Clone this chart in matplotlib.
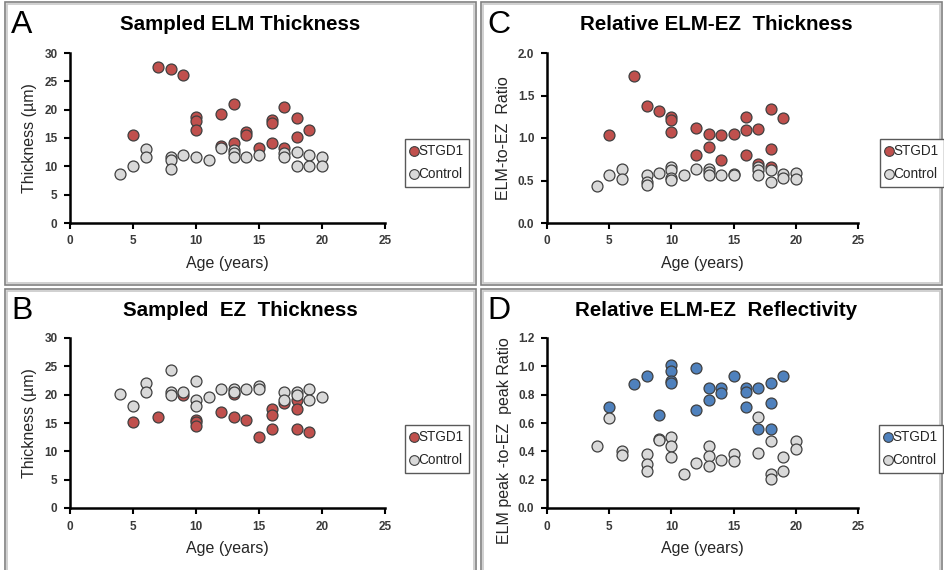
import matplotlib
matplotlib.use('Agg')
import matplotlib.pyplot as plt
from matplotlib.lines import Line2D
from matplotlib.patches import Rectangle

plt.rcParams['font.family'] = ['Liberation Sans', 'DejaVu Sans']

# --- data ---
# A: Sampled ELM thickness (um)
a_stgd_age = [5, 7, 8, 9, 10, 10, 10, 12, 12, 13, 13, 14, 14, 15, 16, 16, 16, 17, 17, 18, 18, 19]
a_stgd_val = [15.6, 27.6, 27.1, 26.1, 18.7, 18.0, 16.5, 19.2, 13.6, 21.0, 14.2, 16.1, 15.6, 13.2,
              18.2, 17.6, 14.2, 20.5, 13.2, 18.6, 15.2, 16.5]
a_ctrl_age = [4, 5, 6, 6, 8, 8, 8, 9, 10, 11, 12, 13, 13, 13, 14, 15, 17, 17, 18, 18, 19, 19, 20, 20]
a_ctrl_val = [8.6, 10.1, 13.05, 11.7, 11.7, 11.1, 9.6, 12.0, 11.7, 11.2, 13.2, 12.9, 12.4, 11.7,
              11.7, 12.0, 12.3, 11.7, 12.6, 10.1, 12.0, 10.1, 11.7, 10.1]

# B: Sampled EZ thickness (um)
b_stgd_age = [5, 7, 9, 10, 10, 10, 12, 13, 13, 14, 15, 16, 16, 16, 17, 18, 18, 18, 19]
b_stgd_val = [15.1, 16.0, 20.0, 15.6, 15.1, 14.5, 17.0, 20.2, 16.0, 15.6, 12.5, 17.5, 16.4, 14.0,
              18.6, 19.1, 17.5, 14.0, 13.5]
b_ctrl_age = [4, 5, 6, 6, 8, 8, 8, 9, 10, 10, 10, 11, 12, 13, 13, 14, 15, 15, 17, 17, 18, 18, 19, 19, 20]
b_ctrl_val = [20.1, 18.0, 22.0, 20.5, 24.4, 20.5, 20.0, 20.5, 22.5, 19.1, 18.0, 19.6, 21.0, 21.0,
              20.4, 21.0, 21.5, 21.0, 20.5, 19.1, 20.5, 20.0, 21.0, 19.1, 19.6]

# C: ELM-to-EZ thickness ratio
c_stgd_age = [5, 7, 8, 9, 10, 10, 10, 12, 12, 13, 13, 14, 14, 15, 16, 16, 16, 17, 17, 18, 18, 18, 19]
c_stgd_val = [1.04, 1.73, 1.38, 1.32, 1.25, 1.21, 1.065, 1.12, 0.80, 1.05, 0.89, 1.04, 0.74, 1.05,
              1.25, 1.10, 0.80, 1.11, 0.69, 1.34, 0.87, 0.66, 1.23]
c_ctrl_age = [4, 5, 6, 6, 8, 8, 8, 9, 10, 10, 10, 10, 11, 12, 13, 13, 13, 14, 15, 15,
              17, 17, 17, 18, 18, 19, 19, 20, 20]
c_ctrl_val = [0.43, 0.56, 0.64, 0.52, 0.57, 0.48, 0.45, 0.59, 0.66, 0.62, 0.53, 0.51, 0.57, 0.63,
              0.64, 0.60, 0.57, 0.56, 0.58, 0.56, 0.66, 0.62, 0.57, 0.62, 0.48, 0.58, 0.53, 0.59, 0.52]

# D: ELM peak-to-EZ peak reflectivity ratio
d_stgd_age = [5, 7, 8, 9, 10, 10, 10, 10, 12, 12, 13, 13, 14, 14, 15, 16, 16, 16, 17, 17, 18, 18, 18, 19]
d_stgd_val = [0.71, 0.875, 0.93, 0.66, 1.006, 0.97, 0.90, 0.88, 0.99, 0.69, 0.85, 0.76, 0.85, 0.81,
              0.93, 0.85, 0.82, 0.71, 0.85, 0.56, 0.88, 0.74, 0.56, 0.93]
d_ctrl_age = [4, 5, 6, 6, 8, 8, 8, 9, 9, 10, 10, 10, 11, 12, 13, 13, 13, 14, 15, 15,
              17, 17, 18, 18, 18, 19, 19, 20, 20]
d_ctrl_val = [0.44, 0.635, 0.40, 0.376, 0.38, 0.31, 0.26, 0.49, 0.48, 0.50, 0.44, 0.36, 0.24, 0.32,
              0.44, 0.37, 0.30, 0.34, 0.38, 0.33, 0.64, 0.39, 0.475, 0.24, 0.205, 0.36, 0.26, 0.475, 0.415]

RED = '#C0504D'
BLUE = '#4F81BD'
GREY = '#D9D9D9'
EDGE = '#3F3F3F'
TXT = '#262626'

W, H = 944, 570
fig = plt.figure(figsize=(W / 100, H / 100), dpi=100)


def px(x0, y_top, w, h):
    # pixel box (left, top, width, height) -> figure fraction rect
    return [x0 / W, 1 - (y_top + h) / H, w / W, h / H]


def panel(rect, s_age, s_val, c_age, c_val, col, ymax, ystep, yfmt):
    ax = fig.add_axes(rect)
    ax.scatter(s_age, s_val, s=62, c=col, edgecolors=EDGE, linewidths=0.9, zorder=3)
    ax.scatter(c_age, c_val, s=62, c=GREY, edgecolors=EDGE, linewidths=0.9, zorder=4)
    ax.set_xlim(0, 25)
    ax.set_ylim(0, ymax)
    ax.set_xticks(range(0, 26, 5))
    n = int(round(ymax / ystep))
    ax.set_yticks([i * ystep for i in range(n + 1)])
    ax.set_yticklabels([yfmt.format(i * ystep) for i in range(n + 1)])
    for sp in ['top', 'right']:
        ax.spines[sp].set_visible(False)
    for sp in ['left', 'bottom']:
        ax.spines[sp].set_linewidth(1.8)
        ax.spines[sp].set_color('black')
    ax.tick_params(direction='out', length=4, width=1.5, labelsize=8.5,
                   labelcolor='#3a3a3a', pad=5)
    for lab in ax.get_xticklabels() + ax.get_yticklabels():
        lab.set_fontweight('bold')
    ax.set_xlabel('Age (years)', fontsize=11.5, color=TXT, labelpad=6)
    ax.patch.set_alpha(0)
    return ax


def legend(col, x0, y_top):
    handles = [Line2D([], [], ls='', marker='o', ms=7, mfc=col, mec=EDGE, mew=0.8),
               Line2D([], [], ls='', marker='o', ms=7, mfc=GREY, mec=EDGE, mew=0.8)]
    leg = fig.legend(handles, ['STGD1', 'Control'], loc='upper left',
                     bbox_to_anchor=(x0 / W, 1 - y_top / H), fontsize=9.8,
                     handlelength=0.5, handletextpad=0.1, borderpad=0.4,
                     labelspacing=0.65, fancybox=False, framealpha=1,
                     borderaxespad=0)
    leg.get_frame().set_edgecolor('#595959')
    leg.get_frame().set_linewidth(1.0)
    for t in leg.get_texts():
        t.set_color(TXT)


# panel frames (double grey lines)
for (x0, y0, x1, y1) in [(5, 2, 476, 285), (481, 2, 942, 285),
                         (5, 289, 476, 575), (481, 289, 942, 575)]:
    for off, c in [(0, '#808080'), (2, '#C8C8C8')]:
        fig.add_artist(Rectangle(((x0 + off) / W, 1 - (y1 - off) / H),
                                 (x1 - x0 - 2 * off) / W, (y1 - y0 - 2 * off) / H,
                                 transform=fig.transFigure, fill=False,
                                 edgecolor=c, linewidth=1.2))

axA = panel(px(70, 53, 315, 170), a_stgd_age, a_stgd_val, a_ctrl_age, a_ctrl_val,
            RED, 30, 5, '{:.0f}')
axA.set_ylabel('Thickness (\u00b5m)', fontsize=11.5, color=TXT, labelpad=5)

axB = panel(px(70, 338, 315, 170), b_stgd_age, b_stgd_val, b_ctrl_age, b_ctrl_val,
            RED, 30, 5, '{:.0f}')
axB.set_ylabel('Thickness (\u00b5m)', fontsize=11.5, color=TXT, labelpad=5)

axC = panel(px(547, 53, 311, 170), c_stgd_age, c_stgd_val, c_ctrl_age, c_ctrl_val,
            RED, 2.0, 0.5, '{:.1f}')
axC.set_ylabel('ELM-to-EZ  Ratio', fontsize=11.5, color=TXT, labelpad=5)

axD = panel(px(547, 338, 311, 170), d_stgd_age, d_stgd_val, d_ctrl_age, d_ctrl_val,
            BLUE, 1.2, 0.2, '{:.1f}')
fig.text(505 / W, 1 - 441 / H, 'ELM peak -to-EZ  peak Ratio', rotation=90,
         fontsize=11.5, color=TXT, ha='center', va='center')

# titles and panel letters
titles = [('A', 'Sampled ELM Thickness', 11, 240, 25),
          ('B', 'Sampled  EZ  Thickness', 11, 240, 311),
          ('C', 'Relative ELM-EZ  Thickness', 487, 716, 25),
          ('D', 'Relative ELM-EZ  Reflectivity', 487, 716, 311)]
for letter, title, lx, tx, ty in titles:
    fig.text(lx / W, 1 - ty / H, letter, fontsize=23, ha='left', va='center', color='black')
    fig.text(tx / W, 1 - ty / H, title, fontsize=14.8, fontweight='bold',
             ha='center', va='center', color='black')

legend(RED, 405, 139)
legend(RED, 880, 139)
legend(RED, 405, 425)
legend(BLUE, 879, 425)

fig.savefig('out.png', dpi=100)
